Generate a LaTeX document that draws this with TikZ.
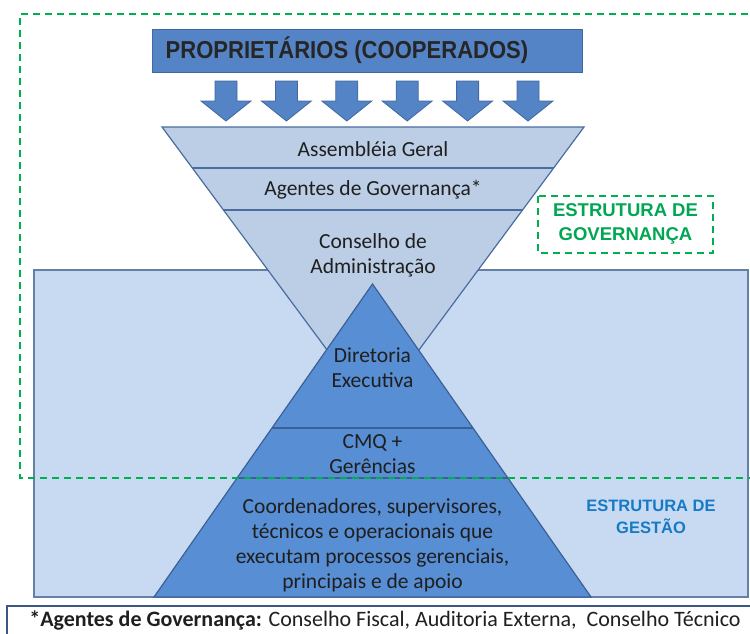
\documentclass[tikz,border=0pt]{standalone}
\usepackage{fontspec}
\setmainfont{Carlito}
\newfontfamily\headfont{Liberation Sans}
\newfontfamily\narrowfont[FakeStretch=0.9]{Liberation Sans}
\usepackage{tikz}
\definecolor{Propblue}{RGB}{84,132,197}
\definecolor{Propline}{RGB}{65,105,160}
\definecolor{Govlight}{RGB}{187,206,230}
\definecolor{Govline}{RGB}{74,108,158}
\definecolor{Gestlight}{RGB}{199,218,242}
\definecolor{Gestline}{RGB}{100,128,165}
\definecolor{Pyrblue}{RGB}{88,142,212}
\definecolor{Pyrline}{RGB}{60,96,148}
\definecolor{Dashgreen}{RGB}{0,176,80}
\definecolor{Textgreen}{RGB}{0,166,81}
\definecolor{Textblue}{RGB}{22,122,196}
\definecolor{Notebox}{RGB}{60,88,128}

\begin{document}
\begin{tikzpicture}[x=1pt,y=-1pt,
  bodytext/.style={font=\fontsize{21.5}{25}\selectfont, text=black!88, align=center, inner sep=0},
  headtext/.style={font=\headfont\bfseries\fontsize{18.5}{24}\selectfont, align=center, inner sep=0},
  greendash/.style={draw=Dashgreen, dash pattern=on 7pt off 5pt}]
\useasboundingbox (0,0) rectangle (750,633);
%\node {\includegraphics{estrutura.png}};
% estrutura de gestao
\draw[line width=1.2, draw=Gestline, fill=Gestlight] (34,270) rectangle (748,597);
% piramide invertida (governanca)
\draw[line width=1.2, draw=Govline, fill=Govlight] (162,127) -- (584,127) -- (373,412) -- cycle;
\draw[line width=1.2, draw=Govline] (192.3,168) -- (553.7,168);
\draw[line width=1.2, draw=Govline] (223.4,210) -- (522.6,210);
% piramide (gestao)
\draw[line width=1.2, draw=Pyrline, fill=Pyrblue] (372.5,284) -- (591,597) -- (154,597) -- cycle;
\draw[line width=1.2, draw=Pyrline] (272,428) -- (473,428);
\draw[line width=1.2, draw=Pyrline] (237.1,478) -- (507.9,478);
% proprietarios
\draw[line width=1, draw=Propline, fill=Propblue] (152,29) rectangle (582,72);
\node[headtext, font=\narrowfont\bfseries\fontsize{24.5}{28}\selectfont, text=black!85] (prop) at (347,50.5) {PROPRIETÁRIOS (COOPERADOS)};
\foreach \cx in {226,286.4,346.8,407.2,467.6,528}
  \draw[line width=0.8, draw=Propline, fill=Propblue, xshift=\cx]
    (-11,81) -- (11,81) -- (11,101) -- (25,101) -- (0,121) -- (-25,101) -- (-11,101) -- cycle;
% textos
\node[bodytext] (assembleia) at (373,149) {Assembléia Geral};
\node[bodytext] (agentes) at (373,190) {Agentes de Governança*};
\node[bodytext] (conselho) at (373,255.5) {Conselho de\\Administração};
\node[bodytext] (diretoria) at (372.5,367.5) {Diretoria\\Executiva};
\node[bodytext] (cmq) at (372.5,454.5) {CMQ +\\Gerências};
\node[bodytext] (coord) at (372.5,545.5) {Coordenadores, supervisores,\\técnicos e operacionais que\\executam processos gerenciais,\\principais e de apoio};
\node[headtext, text=Textblue, font=\headfont\bfseries\fontsize{16.5}{22}\selectfont] (gestao) at (651,517) {ESTRUTURA DE\\GESTÃO};
% estrutura de governanca
\draw[greendash, line width=1.5] (538,196) rectangle (713,253);
\node[headtext, text=Textgreen] (governanca) at (625.5,224) {ESTRUTURA DE\\GOVERNANÇA};
\draw[greendash, line width=2] (760,14) -- (20,14) -- (20,478) -- (760,478);
% nota
\draw[line width=1.8, draw=Notebox] (7,606) rectangle (760,645);
\node[bodytext, font=\fontsize{22}{25}\selectfont] (nota) at (385,620) {\textbf{*Agentes de Governança:} Conselho Fiscal, Auditoria Externa,~ Conselho Técnico};
\end{tikzpicture}
\end{document}
